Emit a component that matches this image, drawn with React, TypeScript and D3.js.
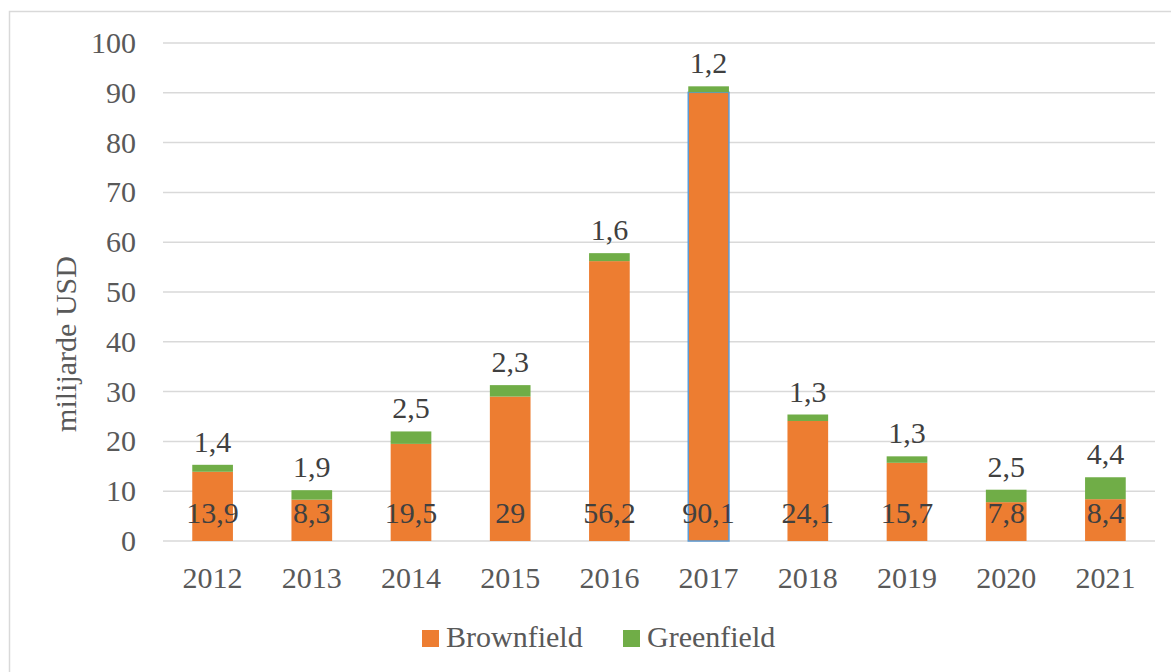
import React from "react";
import * as d3 from "d3";

const years = ["2012", "2013", "2014", "2015", "2016", "2017", "2018", "2019", "2020", "2021"];
const brownfield = [13.9, 8.3, 19.5, 29, 56.2, 90.1, 24.1, 15.7, 7.8, 8.4];
const greenfield = [1.4, 1.9, 2.5, 2.3, 1.6, 1.2, 1.3, 1.3, 2.5, 4.4];
const yTicks = [0, 10, 20, 30, 40, 50, 60, 70, 80, 90, 100];

const W = 1171;
const H = 672;
const ORANGE = "#ED7D31";
const GREEN = "#70AD47";
const FS = 30;
const SERIF = "Liberation Serif";

const fmt = (v: number) => String(v).replace(".", ",");

const App: React.FC = () => {
  const x = d3.scaleBand().domain(years).range([163, 1155]).paddingInner(0.59).paddingOuter(0.295);
  const y = d3.scaleLinear().domain([0, 100]).range([541, 43]);
  const bw = x.bandwidth();

  return (
    <svg width={W} height={H} style={{ position: "absolute", left: 0, top: 0, background: "#fff" }}>
      <style>{`text { font-family: "Liberation Serif", serif !important; }`}</style>
      <rect x={9.5} y={11.5} width={W + 20} height={H + 20} fill="#fff" stroke="#D9D9D9" strokeWidth={1.5} />
      {/* gridlines */}
      {yTicks.map((t) => (
        <line key={t} x1={163} x2={1155} y1={y(t)} y2={y(t)} stroke="#D9D9D9" strokeWidth={1.5} />
      ))}
      {yTicks.map((t) => (
        <text key={"l" + t} x={136} y={y(t)} dy="0.33em" textAnchor="end" fontSize={FS} fontFamily={SERIF} fill="#595959">
          {t}
        </text>
      ))}
      <text
        transform={`translate(76, 344) rotate(-90)`}
        textAnchor="middle"
        fontSize={FS}
        fontFamily={SERIF}
        fill="#595959"
      >
        milijarde USD
      </text>
      {years.map((yr, i) => {
        const x0 = x(yr)!;
        const b = brownfield[i];
        const g = greenfield[i];
        const cx = x0 + bw / 2;
        return (
          <g key={yr}>
            <rect
              x={x0}
              y={y(b)}
              width={bw}
              height={y(0) - y(b)}
              fill={ORANGE}
              stroke={yr === "2017" ? "#5B9BD5" : "none"}
              strokeWidth={yr === "2017" ? 1.5 : 0}
            />
            <rect x={x0} y={y(b + g)} width={bw} height={y(b) - y(b + g)} fill={GREEN} />
            <text x={cx} y={y(0) - 28} dy="0.33em" textAnchor="middle" fontSize={FS} fontFamily={SERIF} fill="#404040">
              {fmt(b)}
            </text>
            <text x={cx} y={y(b + g) - 13} textAnchor="middle" fontSize={FS} fontFamily={SERIF} fill="#404040">
              {fmt(g)}
            </text>
            <text x={cx} y={578} dy="0.33em" textAnchor="middle" fontSize={FS} fontFamily={SERIF} fill="#595959">
              {yr}
            </text>
          </g>
        );
      })}
      {/* legend */}
      <rect x={422} y={630} width={17} height={17} fill={ORANGE} />
      <text x={446} y={637} dy="0.33em" fontSize={FS} fontFamily={SERIF} fill="#595959">
        Brownfield
      </text>
      <rect x={623} y={630} width={17} height={17} fill={GREEN} />
      <text x={647} y={637} dy="0.33em" fontSize={FS} fontFamily={SERIF} fill="#595959">
        Greenfield
      </text>
    </svg>
  );
};

export default App;
